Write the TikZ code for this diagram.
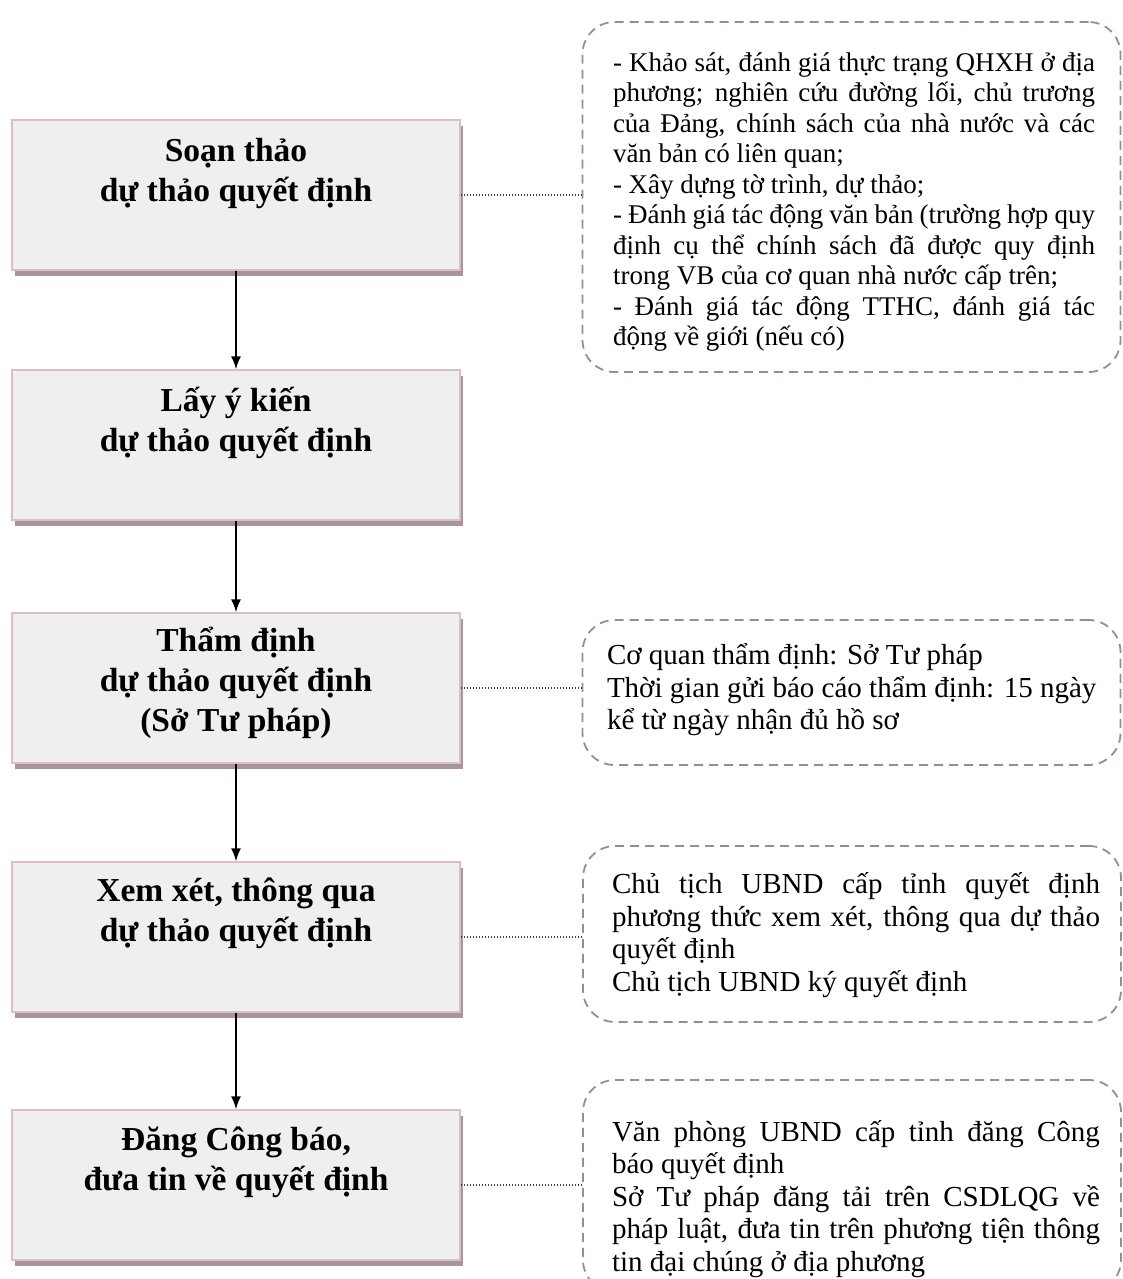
\documentclass[tikz,border=0pt]{standalone}
\usepackage{fontspec}
\setmainfont{Liberation Serif}
\usetikzlibrary{arrows.meta,shadows}

\definecolor{stepfill}{HTML}{EFEFEF}
\definecolor{stepedge}{HTML}{DCBEC3}
\definecolor{stepshade}{HTML}{A8959B}
\definecolor{noteedge}{HTML}{9A8C91}
\definecolor{linkgray}{HTML}{3C3C3C}

% keep a fixed baseline distance even where accents stack up
\newcommand\tightlines{\lineskiplimit-100pt\relax}

\begin{document}
\begin{tikzpicture}[x=1pt,y=-1pt,
  stepbox/.style={draw=stepedge, line width=1.5pt, fill=stepfill,
    minimum width=448pt, minimum height=150pt, inner sep=0pt,
    drop shadow={shadow xshift=3pt, shadow yshift=-6pt, fill=stepshade, opacity=1}},
  steptext/.style={font=\fontsize{33.5}{40}\selectfont\bfseries\tightlines,
    align=center, anchor=north, inner sep=0pt},
  notebox/.style={draw=noteedge, line width=1.8pt, rounded corners=32pt,
    dash pattern=on 9pt off 6pt, minimum width=538pt, inner sep=0pt},
  notetext/.style={align=justify, inner sep=0pt,
    font=\fontsize{29}{32.5}\selectfont\tightlines, text width=488pt},
  flowarrow/.style={draw=black, line width=1.6pt, -{Latex[length=13pt,width=10pt]}},
  linkdots/.style={draw=linkgray, line width=2pt, dash pattern=on 1.6pt off 1.4pt}
]
\useasboundingbox (0,0) rectangle (1122,1279);
\fill[white] (0,0) rectangle (1122,1279);

% main steps
\node[stepbox] (s1) at (236,195) {};
\node[stepbox] (s2) at (236,445) {};
\node[stepbox] (s3) at (236,688) {};
\node[stepbox] (s4) at (236,937) {};
\node[stepbox] (s5) at (236,1185) {};

\node[steptext] (t1) at ([yshift=-8pt]s1.north) {\rule{0pt}{34pt}Soạn thảo\\dự thảo quyết định};
\node[steptext] (t2) at ([yshift=-8pt]s2.north) {\rule{0pt}{34pt}Lấy ý kiến\\dự thảo quyết định};
\node[steptext] (t3) at ([yshift=-5pt]s3.north) {\rule{0pt}{34pt}Thẩm định\\dự thảo quyết định\\(Sở Tư pháp)};
\node[steptext] (t4) at ([yshift=-6pt]s4.north) {\rule{0pt}{34pt}Xem xét, thông qua\\dự thảo quyết định};
\node[steptext] (t5) at ([yshift=-7pt]s5.north) {\rule{0pt}{34pt}Đăng Công báo,\\đưa tin về quyết định};

% notes
\node[notebox, minimum height=350pt] (n1) at (851.5,197) {};
\node[notebox, minimum height=145pt] (n3) at (851.5,692.5) {};
\node[notebox, minimum height=176pt] (n4) at (852,934) {};
\node[notebox, minimum height=212pt] (n5) at (852,1186) {};

\node[notetext, font=\fontsize{27}{30.5}\selectfont\tightlines, text width=482pt] (m1) at (854,202) {%
- Khảo sát, đánh giá thực trạng QHXH ở địa\linebreak
phương; nghiên cứu đường lối, chủ trương\linebreak
của Đảng, chính sách của nhà nước và các\linebreak
văn bản có liên quan;\\
- Xây dựng tờ trình, dự thảo;\\
- Đánh giá tác động văn bản (trường hợp quy\linebreak
định cụ thể chính sách đã được quy định\linebreak
trong VB của cơ quan nhà nước cấp trên;\\
- Đánh giá tác động TTHC, đánh giá tác\linebreak
động về giới (nếu có)};

\node[notetext, text width=490pt] (m3) at (852,690) {%
Cơ quan thẩm định: Sở Tư pháp\\
Thời gian gửi báo cáo thẩm định: 15 ngày\\
kể từ ngày nhận đủ hồ sơ};

\node[notetext] (m4) at (856,935) {%
Chủ tịch UBND cấp tỉnh quyết định\linebreak
phương thức xem xét, thông qua dự thảo\linebreak
quyết định\\
Chủ tịch UBND ký quyết định};

\node[notetext] (m5) at (856,1199) {%
Văn phòng UBND cấp tỉnh đăng Công\linebreak
báo quyết định\\
Sở Tư pháp đăng tải trên CSDLQG về\linebreak
pháp luật, đưa tin trên phương tiện thông\linebreak
tin đại chúng ở địa phương};

% flow
\draw[flowarrow] (s1.south) -- (s2.north);
\draw[flowarrow] (s2.south) -- (s3.north);
\draw[flowarrow] (s3.south) -- (s4.north);
\draw[flowarrow] (s4.south) -- (s5.north);

% links to notes
\draw[linkdots] (s1.east) -- (s1.east -| n1.west);
\draw[linkdots] (s3.east) -- (s3.east -| n3.west);
\draw[linkdots] (s4.east) -- (s4.east -| n4.west);
\draw[linkdots] (s5.east) -- (s5.east -| n5.west);
\end{tikzpicture}
\end{document}
